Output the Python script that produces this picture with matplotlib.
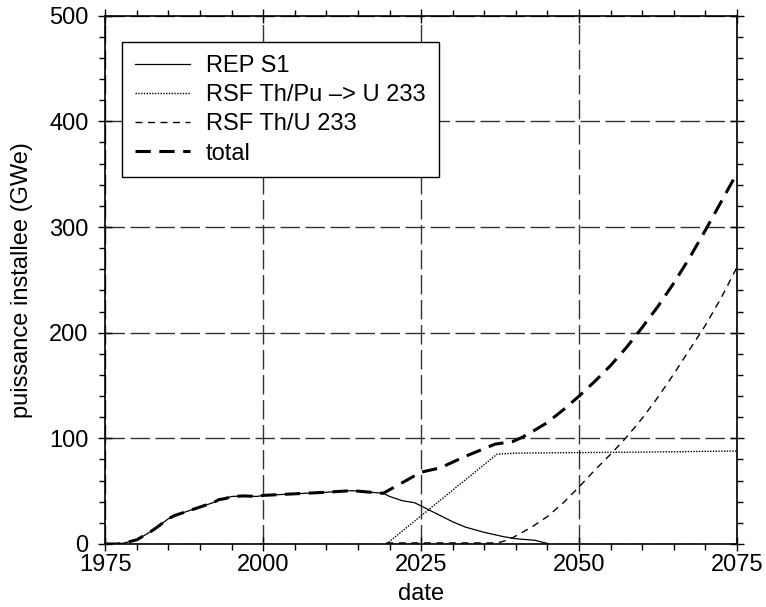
import matplotlib
matplotlib.use("Agg")
import matplotlib.pyplot as plt
from matplotlib.ticker import MultipleLocator

plt.rcParams['font.family'] = ['Liberation Sans', 'DejaVu Sans']

# REP S1 (solid)
rep_years = [1975, 1977, 1978, 1980, 1982, 1983, 1985, 1986, 1987, 1988, 1989, 1990,
             1991, 1992, 1993, 1994, 1995, 1997, 1999, 2000, 2005, 2010, 2014, 2017,
             2019, 2020, 2022, 2024, 2025, 2027, 2030, 2032, 2035, 2038, 2040, 2043, 2045]
rep_vals = [0, 0, 1, 4, 11, 15, 24, 27, 29, 31, 33, 35,
            37, 39, 42, 43, 45, 45.5, 45, 46, 47.5, 49, 50.5, 49,
            48, 45, 41, 39, 36, 30, 21, 16, 11, 7, 5, 3.5, 0.5]

# RSF Th/Pu -> U 233 (dotted)
pu_years = [2019.5, 2037, 2040, 2050, 2060, 2075]
pu_vals = [0, 85, 86, 86.5, 87, 88]

# RSF Th/U 233 (thin dashed)
u_years = [2019.5, 2030, 2037, 2038, 2039.5, 2041, 2042.5, 2045, 2047.5, 2050, 2052.5,
           2055, 2057.5, 2060, 2062.5, 2065, 2067.5, 2070, 2072.5, 2075]
u_vals = [1, 1, 1, 2.5, 6, 11, 16, 26, 39, 54, 70,
          85, 101, 119, 139, 161, 184, 207, 233, 262]

# total (thick dashed)
tot_years = [1975, 1977, 1978, 1980, 1982, 1983, 1985, 1986, 1987, 1988, 1989, 1990,
             1991, 1992, 1993, 1994, 1995, 1997, 1999, 2000, 2005, 2010, 2014, 2017,
             2019, 2020.5, 2022, 2025, 2028, 2032, 2036.7, 2039.5, 2041, 2042.5, 2045,
             2047.5, 2050, 2052.5, 2055, 2057.5, 2060, 2062.5, 2065, 2067.5, 2070,
             2072.5, 2075]
tot_vals = [0, 0, 1, 4, 11, 15, 24, 27, 29, 31, 33, 35,
            37, 39, 42, 43, 45, 45.5, 45, 46, 47.5, 49, 50.5, 49,
            48, 53, 58, 68, 72, 83, 94.5, 97, 101, 106, 115,
            127, 140, 154, 169, 186, 205, 225, 247, 271, 297,
            324, 351]

FS = 17

fig = plt.figure(figsize=(7.66, 6.07), dpi=100)
ax = fig.add_axes([105.3/766, 1 - 544/607, (737.0 - 105.3)/766, (544 - 15.7)/607])

ax.set_xlim(1975, 2075)
ax.set_ylim(0, 500)

ax.xaxis.set_major_locator(MultipleLocator(25))
ax.xaxis.set_minor_locator(MultipleLocator(5))
ax.yaxis.set_major_locator(MultipleLocator(100))
ax.yaxis.set_minor_locator(MultipleLocator(20))

ax.grid(True, which='major', color='#333333', linewidth=1.0, linestyle=(0, (14, 4)))
ax.set_axisbelow(True)

ax.plot(rep_years, rep_vals, color='black', linewidth=0.9, label='REP S1')
ax.plot(pu_years, pu_vals, color='black', linewidth=1.0, linestyle=(0, (1, 1)),
        label='RSF Th/Pu \u2013> U 233')
ax.plot(u_years, u_vals, color='black', linewidth=1.0, linestyle=(0, (5, 4)),
        label='RSF Th/U 233')
ax.plot(tot_years, tot_vals, color='black', linewidth=2.2, linestyle=(0, (5, 2.8)),
        label='total')

for s in ax.spines.values():
    s.set_linewidth(1.2)

ax.tick_params(which='major', direction='inout', length=10, width=1.0,
               top=True, right=True, labelsize=FS)
ax.tick_params(axis='x', which='major', pad=2.5)
ax.tick_params(axis='y', which='major', pad=7)
ax.tick_params(which='minor', direction='out', length=4, width=1.0,
               top=True, right=True)

ax.set_xlabel('date', fontsize=FS, labelpad=5)
ax.set_ylabel('puissance installee (GWe)', fontsize=FS, labelpad=12)

leg = ax.legend(loc='upper left', bbox_to_anchor=(0.0264, 0.9497), fontsize=FS,
                frameon=True, fancybox=False, handlelength=2.33, handletextpad=0.68,
                labelspacing=0.3, borderpad=0.55, borderaxespad=0)
leg.get_frame().set_edgecolor('black')
leg.get_frame().set_linewidth(1.0)
leg.get_frame().set_alpha(1)

fig.savefig('out.png', dpi=100)
